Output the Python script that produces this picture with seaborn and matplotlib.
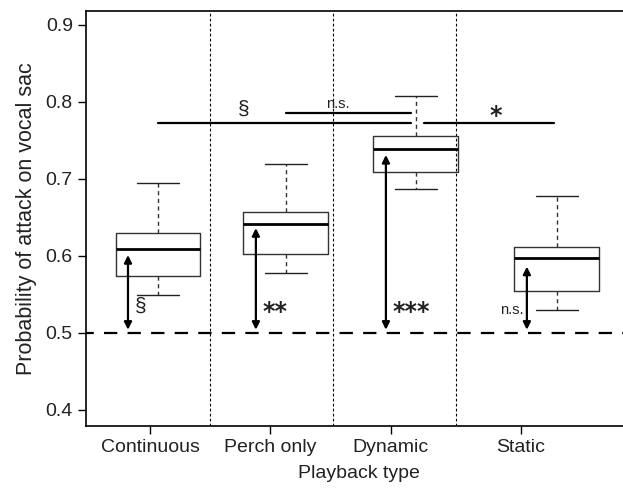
import numpy as np
import pandas as pd
import seaborn as sns
import matplotlib.pyplot as plt

# playback types and box statistics (min, q1, median, q3, max)
playback = ["Continuous", "Perch only", "Dynamic", "Static"]
p_min = [0.549, 0.578, 0.687, 0.530]
p_q1 = [0.574, 0.602, 0.709, 0.554]
p_med = [0.609, 0.642, 0.739, 0.597]
p_q3 = [0.630, 0.657, 0.756, 0.612]
p_max = [0.695, 0.719, 0.808, 0.678]
# mean estimate (arrow tips) and test against chance
p_mean = [0.601, 0.636, 0.731, 0.586]
sig_vs_chance = ["§", "**", "***", "n.s."]
chance = 0.5

# x layout of the original figure
tick_pos = [1.0, 2.0, 3.008, 4.092]
box_pos = [1.067, 2.133, 3.217, 4.392]
sep_pos = [1.5, 2.525, 3.55]

rows = []
for i, name in enumerate(playback):
    for v in (p_min[i], p_q1[i], p_med[i], p_q3[i], p_max[i]):
        rows.append({"Playback": name, "pos": box_pos[i], "p": v})
df = pd.DataFrame(rows)

sns.set_style("ticks")
plt.rcParams["font.family"] = ["Liberation Sans", "DejaVu Sans"]

fig = plt.figure(figsize=(6.23, 4.91), dpi=100)
ax = fig.add_axes([86 / 623, 65 / 491, 545 / 623, 415 / 491])

min_gap = np.min(np.diff(box_pos))
sns.boxplot(data=df, x="pos", y="p", native_scale=True, whis=np.inf,
            width=0.708 / min_gap, fill=False, color="#333333", linewidth=1,
            medianprops=dict(color="black", linewidth=2.0),
            whiskerprops=dict(linestyle=(0, (3, 2.5)), color="#333333"),
            capprops=dict(color="#222222"), ax=ax)

for s in sep_pos:
    ax.axvline(s, color="black", lw=0.8, ls=(0, (2.5, 2)), zorder=0)

ax.axhline(chance, color="black", lw=1.6, ls=(2.5, (6, 4.6)), zorder=1)

star_kw = dict(fontsize=17, fontweight="bold", color="#222222",
               family=["DejaVu Sans"])
for i in range(len(playback)):
    xa = box_pos[i] - 0.25
    ax.annotate("", xy=(xa, p_mean[i]), xytext=(xa, chance + 0.004),
                arrowprops=dict(arrowstyle="<|-|>", lw=1.6, color="black",
                                mutation_scale=11, shrinkA=0, shrinkB=0))
    if sig_vs_chance[i] == "n.s.":
        ax.text(xa - 0.03, 0.530, "n.s.", ha="right", va="center", fontsize=10.5,
                color="#222222")
    elif sig_vs_chance[i] == "§":
        ax.text(xa + 0.06, 0.534, "§", ha="left", va="center", fontsize=15,
                color="#222222")
    else:
        ax.text(xa + 0.055, 0.527, sig_vs_chance[i], ha="left", va="center",
                **star_kw)

# pairwise comparisons
y_long = 0.772
ax.plot([box_pos[0], box_pos[2] - 0.045], [y_long, y_long], color="black", lw=1.6)
ax.text(1.78, 0.790, "§", ha="center", va="center", fontsize=15, color="#222222")
ax.plot([box_pos[2] + 0.065, box_pos[3] - 0.025], [y_long, y_long], color="black", lw=1.6)
ax.text(3.88, 0.781, "*", ha="center", va="center", **star_kw)
y_ns = 0.785
ax.plot([box_pos[1], box_pos[2] - 0.045], [y_ns, y_ns], color="black", lw=1.6)
ax.text(2.565, 0.797, "n.s.", ha="center", va="center", fontsize=10.5, color="#222222")

ax.set_xlim(0.467, 5.01)
ax.set_ylim(0.379, 0.918)
ax.set_xticks(tick_pos, playback)
ax.set_yticks([0.4, 0.5, 0.6, 0.7, 0.8, 0.9], ["0.4", "0.5", "0.6", "0.7", "0.8", "0.9"])
ax.tick_params(axis="both", labelsize=14, length=6, width=1, color="black",
               labelcolor="#222222")
ax.set_xlabel("Playback type", fontsize=14, color="#222222", labelpad=6)
ax.set_ylabel("Probability of attack on vocal sac", fontsize=15.5, color="#222222",
              labelpad=6)
for sp in ax.spines.values():
    sp.set_visible(True)
    sp.set_color("black")
    sp.set_linewidth(1.2)

fig.savefig("out.png", dpi=100)
